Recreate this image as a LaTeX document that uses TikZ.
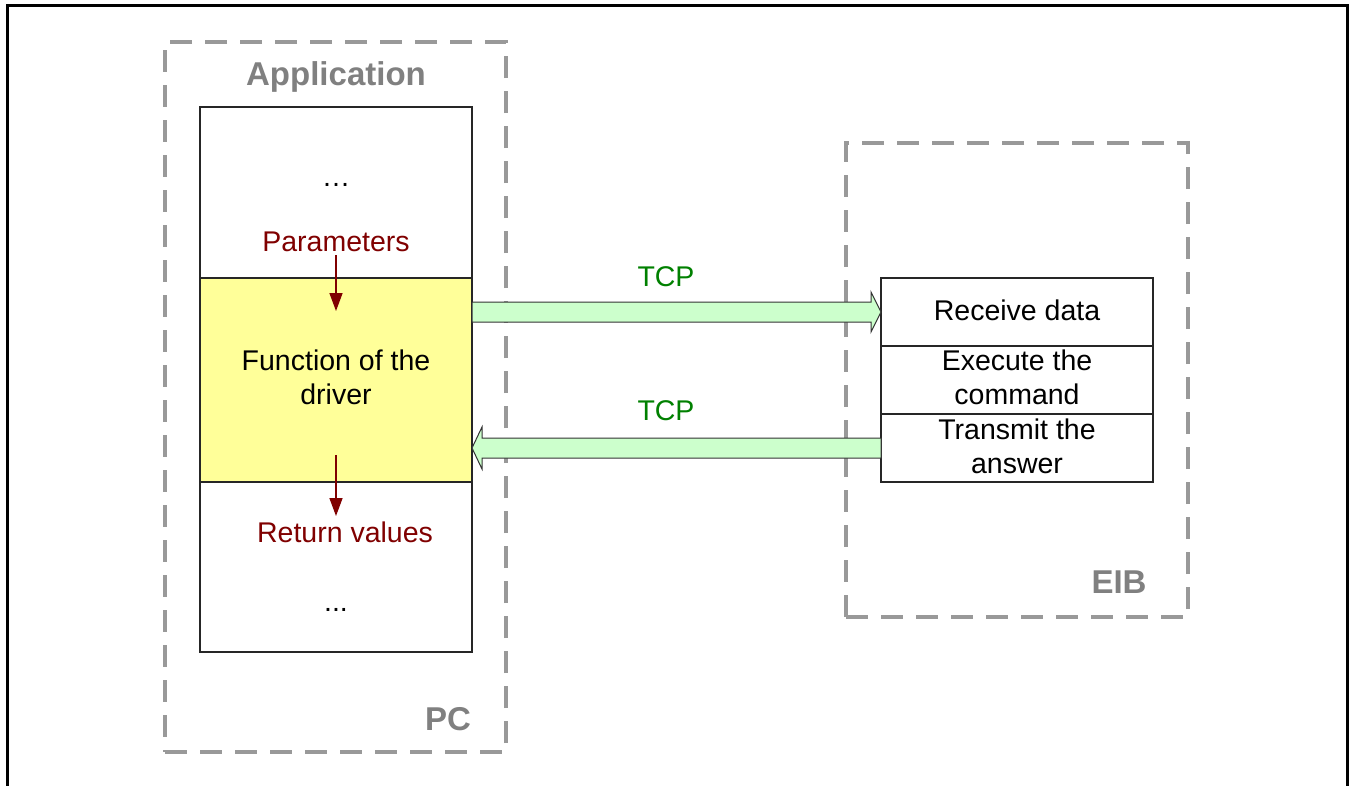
\documentclass[tikz,border=0pt]{standalone}
\usepackage{fontspec}
\setmainfont{Liberation Sans}
\usetikzlibrary{arrows.meta,calc}
\definecolor{dashgray}{HTML}{999999}
\definecolor{labgray}{HTML}{808080}
\definecolor{drvyellow}{HTML}{FFFF99}
\definecolor{tcpfill}{HTML}{CCFFCC}
\definecolor{darkred}{HTML}{800000}
\definecolor{tcpgreen}{HTML}{008000}
\begin{document}
\begin{tikzpicture}[x=1pt,y=-1pt,
  txt/.style={font=\fontsize{28.5}{34}\selectfont, align=center, inner sep=0pt},
  title/.style={font=\fontsize{33}{38}\selectfont\bfseries, text=labgray, inner sep=0pt},
  group/.style={draw=dashgray, line width=3.2pt, dash pattern=on 22pt off 13pt, inner sep=0pt, outer sep=0pt},
  cell/.style={draw=black!85, line width=1.2pt, inner sep=0pt, outer sep=0pt, minimum width=272pt},
  flow/.style={draw=darkred, line width=1.5pt, -{Triangle[length=18pt,width=13pt]}},
  tcparrow/.style={draw=black!80, line width=1pt, fill=tcpfill, line join=miter}
]
\useasboundingbox (0,0) rectangle (1354,785);
\draw[line width=3pt] (7,800) -- (7,5) -- (1347,5) -- (1347,800);

% groups
\node[group, minimum width=341pt, minimum height=710pt] (pc) at (335.5,397) {};
\node[group, minimum width=342pt, minimum height=474pt] (eib) at (1017,380) {};
\node[title] (apptitle) at (336,77) {Application};
\node[title] (pctitle) at (448,719) {PC};
\node[title] (eibtitle) at (1119,582) {EIB};

% application column
\node[cell, minimum height=545pt, fill=white] (col) at (336,379.5) {};
\node[cell, minimum height=204pt, fill=drvyellow] (drv) at (336,380) {};
\node[txt] (drvtxt) at (336,377) {Function of the\\driver};
\node[txt] (dots1) at (336,185) {…};
\node[txt, text=darkred] (params) at (336,242) {Parameters};
\node[txt, text=darkred] (retvals) at (345,532) {Return values};
\node[txt] (dots2) at (336,610) {...};
\coordinate (ptip) at (336,311);
\coordinate (rstart) at (336,455);
\coordinate (rtip) at (336,516);
\draw[flow, shorten <=3pt] (params.south) -- (ptip);
\draw[flow] (rstart) -- (rtip);

% EIB stack
\node[cell, minimum height=68pt, fill=white] (recv) at (1017,312) {};
\node[cell, minimum height=68pt, fill=white] (exec) at (1017,380) {};
\node[cell, minimum height=68pt, fill=white] (trans) at (1017,448) {};
\node[txt] (recvtxt) at (1017,310) {Receive data};
\node[txt] (exectxt) at (1017,377) {Execute the\\command};
\node[txt] (transtxt) at (1017,446) {Transmit the\\answer};

% TCP arrows
\draw[tcparrow] ($(drv.east)+(0,-78)$) -- ($(recv.west)+(-10,-10)$) -- ($(recv.west)+(-10,-20)$)
  -- (recv.west) -- ($(recv.west)+(-10,20)$) -- ($(recv.west)+(-10,10)$) -- ($(drv.east)+(0,-58)$) -- cycle;
\draw[tcparrow] ($(trans.west)+(0,-10)$) -- ($(drv.east)+(10,58)$) -- ($(drv.east)+(10,47)$)
  -- ($(drv.east)+(0,68)$) -- ($(drv.east)+(10,89)$) -- ($(drv.east)+(10,78)$) -- ($(trans.west)+(0,10)$) -- cycle;
\node[txt, text=tcpgreen] (tcp1) at (666,277) {TCP};
\node[txt, text=tcpgreen] (tcp2) at (666,411) {TCP};
\end{tikzpicture}
\end{document}
